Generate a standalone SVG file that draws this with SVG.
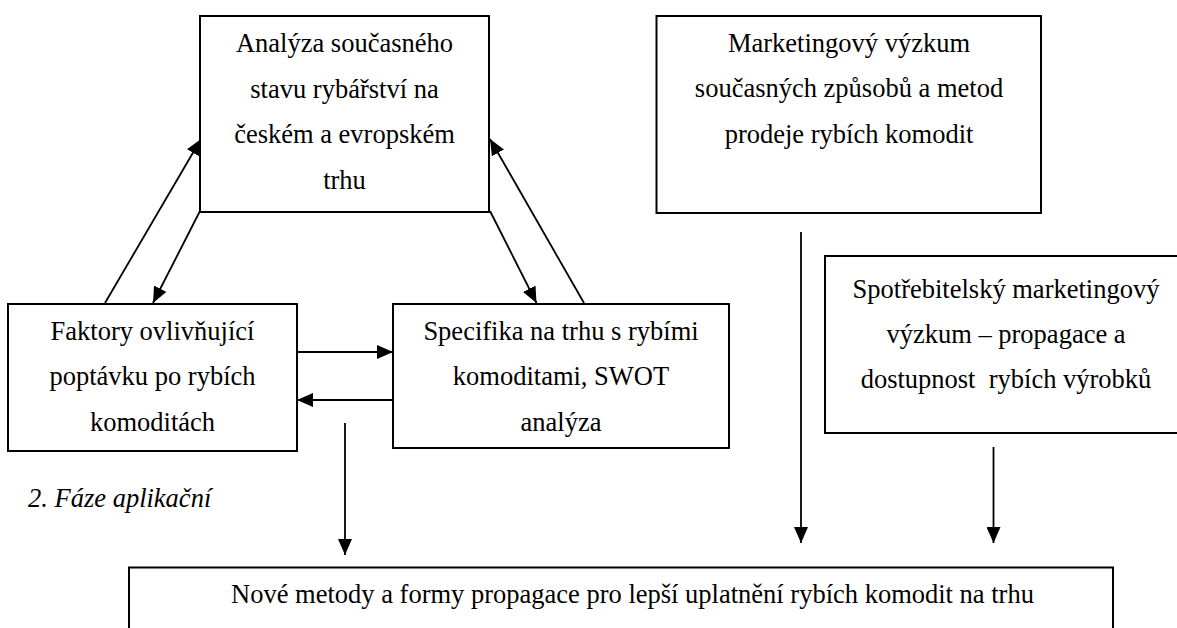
<svg xmlns="http://www.w3.org/2000/svg" width="1177" height="628" viewBox="0 0 1177 628">
<rect width="1177" height="628" fill="#fff"/>
<marker id="ah" markerUnits="userSpaceOnUse" markerWidth="16" markerHeight="14" refX="16" refY="7" orient="auto">
<path d="M0,0 L16,7 L0,14 z" fill="#000"/>
</marker>
<g id="connectors" stroke="#000" stroke-width="1.8" fill="none">
<line x1="105" y1="303" x2="201" y2="139" marker-end="url(#ah)"/>
<line x1="200" y1="211" x2="153" y2="303" marker-end="url(#ah)"/>
<line x1="584" y1="303" x2="490" y2="139" marker-end="url(#ah)"/>
<line x1="490" y1="211" x2="536.5" y2="303" marker-end="url(#ah)"/>
<line x1="297" y1="352" x2="393" y2="352" marker-end="url(#ah)"/>
<line x1="393" y1="400" x2="297" y2="400" marker-end="url(#ah)"/>
<line x1="345" y1="423" x2="345" y2="555" marker-end="url(#ah)"/>
<line x1="801" y1="232" x2="801" y2="543" marker-end="url(#ah)"/>
<line x1="993.5" y1="447" x2="993.5" y2="543" marker-end="url(#ah)"/>
</g>
<g id="n-analyza">
<rect x="200" y="16" width="289" height="196" fill="#fff" stroke="#000" stroke-width="2"/>
<text x="344.5" y="52" font-family="Liberation Serif" font-size="26.5" text-anchor="middle">Analýza současného</text>
<text x="344.5" y="97.5" font-family="Liberation Serif" font-size="26.5" text-anchor="middle">stavu rybářství na</text>
<text x="344.5" y="143" font-family="Liberation Serif" font-size="26.5" text-anchor="middle">českém a evropském</text>
<text x="344.5" y="188.5" font-family="Liberation Serif" font-size="26.5" text-anchor="middle">trhu</text>
</g>
<g id="n-marketing">
<rect x="656.5" y="16" width="384.5" height="197" fill="#fff" stroke="#000" stroke-width="2"/>
<text x="849" y="52" font-family="Liberation Serif" font-size="26.5" text-anchor="middle">Marketingový výzkum</text>
<text x="849" y="97" font-family="Liberation Serif" font-size="26.5" text-anchor="middle">současných způsobů a metod</text>
<text x="849" y="143" font-family="Liberation Serif" font-size="26.5" text-anchor="middle">prodeje rybích komodit</text>
</g>
<g id="n-faktory">
<rect x="8" y="304" width="289" height="147" fill="#fff" stroke="#000" stroke-width="2"/>
<text x="152.5" y="339.5" font-family="Liberation Serif" font-size="26.5" text-anchor="middle">Faktory ovlivňující</text>
<text x="152.5" y="385" font-family="Liberation Serif" font-size="26.5" text-anchor="middle">poptávku po rybích</text>
<text x="152.5" y="430.5" font-family="Liberation Serif" font-size="26.5" text-anchor="middle">komoditách</text>
</g>
<g id="n-specifika">
<rect x="393" y="304" width="336" height="144" fill="#fff" stroke="#000" stroke-width="2"/>
<text x="561" y="339.5" font-family="Liberation Serif" font-size="26.5" text-anchor="middle">Specifika na trhu s rybími</text>
<text x="561" y="384.5" font-family="Liberation Serif" font-size="26.5" text-anchor="middle">komoditami, SWOT</text>
<text x="561" y="431" font-family="Liberation Serif" font-size="26.5" text-anchor="middle">analýza</text>
</g>
<g id="n-spotrebitel">
<rect x="825" y="256" width="360" height="177" fill="#fff" stroke="#000" stroke-width="2"/>
<text x="1006" y="297.5" font-family="Liberation Serif" font-size="26.5" text-anchor="middle">Spotřebitelský marketingový</text>
<text x="1006" y="342.5" font-family="Liberation Serif" font-size="26.5" text-anchor="middle">výzkum – propagace a</text>
<text x="1006" y="388" font-family="Liberation Serif" font-size="26.5" text-anchor="middle" xml:space="preserve">dostupnost  rybích výrobků</text>
</g>
<g id="label-faze">
<text x="28" y="507" font-family="Liberation Serif" font-size="26.5" font-style="italic">2. Fáze aplikační</text>
</g>
<g id="n-nove">
<rect x="129" y="567.5" width="984" height="80" fill="#fff" stroke="#000" stroke-width="2"/>
<text x="632.5" y="603" font-family="Liberation Serif" font-size="26.5" text-anchor="middle">Nové metody a formy propagace pro lepší uplatnění rybích komodit na trhu</text>
</g>
</svg>
